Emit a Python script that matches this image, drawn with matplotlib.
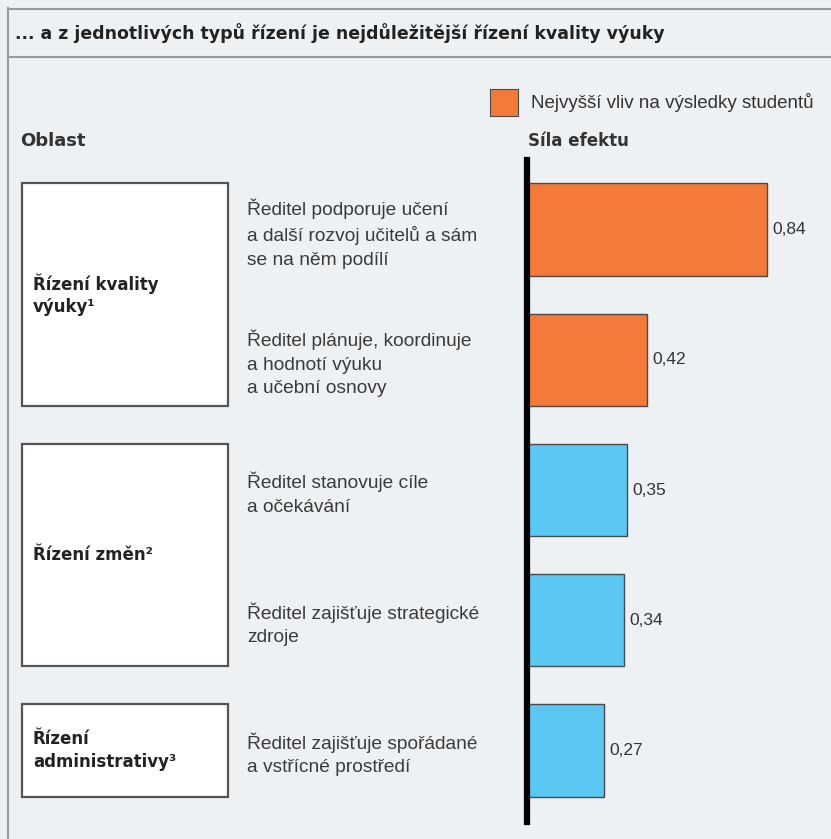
import matplotlib
matplotlib.use("Agg")
import matplotlib.pyplot as plt
from matplotlib.patches import Rectangle
from matplotlib import transforms

# data
popisy = [
    "Ředitel podporuje učení\na další rozvoj učitelů a sám\nse na něm podílí",
    "Ředitel plánuje, koordinuje\na hodnotí výuku\na učební osnovy",
    "Ředitel stanovuje cíle\na očekávání",
    "Ředitel zajišťuje strategické\nzdroje",
    "Ředitel zajišťuje spořádané\na vstřícné prostředí",
]
sila = [0.84, 0.42, 0.35, 0.34, 0.27]
nejvyssi = [True, True, False, False, False]
oblasti = ["Řízení kvality\nvýuky¹", "Řízení změn²", "Řízení\nadministrativy³"]
oblast_od = [0, 2, 4]
oblast_do = [1, 3, 4]

BG = "#eef1f4"
ORANGE = "#f47a3a"
BLUE = "#5ac8f2"
EDGE = "#4a4a4a"
W, H = 831, 839

bold_f = "DejaVu Sans"
reg = ["Liberation Sans", "DejaVu Sans"]

fig = plt.figure(figsize=(W / 100, H / 100), dpi=100, facecolor=BG)

def fx(px):
    return px / W

def fy(py):
    return 1 - py / H

# frame
fig.add_artist(plt.Line2D([fx(8), fx(8)], [fy(8), 0], color="#9a9a9a", lw=1.5))
fig.add_artist(plt.Line2D([fx(8), 1], [fy(8.5), fy(8.5)], color="#9a9a9a", lw=1.5))
fig.add_artist(plt.Line2D([fx(8), 1], [fy(57), fy(57)], color="#9a9a9a", lw=1.5))
fig.text(fx(15), fy(33), "... a z jednotlivých typů řízení je nejdůležitější řízení kvality výuky",
         family=bold_f, weight="bold", fontsize=12.5, va="center", color="#222222")

# legend
fig.add_artist(Rectangle((fx(490), fy(116)), fx(28), 27 / H, facecolor=ORANGE,
                         edgecolor=EDGE, lw=0.8))
fig.text(fx(531), fy(102), "Nejvyšší vliv na výsledky studentů", family=reg,
         fontsize=13.5, va="center", color="#333333")

fig.text(fx(20), fy(141), "Oblast", family=bold_f, weight="bold", fontsize=13,
         va="center", color="#333333")
fig.text(fx(528), fy(141), "Síla efektu", family=bold_f, weight="bold", fontsize=12,
         va="center", color="#333333")

# bars
top, bot, left = 160, 822, 527
ax = fig.add_axes([fx(left), fy(bot), 1 - fx(left), (bot - top) / H])
ax.set_facecolor("none")
y = list(range(len(sila)))
barvy = [ORANGE if n else BLUE for n in nejvyssi]
ax.barh(y, sila, height=0.71, color=barvy, edgecolor=EDGE, linewidth=1.0)
ax.set_xlim(0, (W - left) / 285.7)
ax.set_ylim(4.549, -0.534)
for s in ["top", "right", "bottom"]:
    ax.spines[s].set_visible(False)
ax.spines["left"].set_linewidth(4.5)
ax.spines["left"].set_color("black")
ax.spines["left"].set_zorder(5)
ax.set_xticks([])
ax.set_yticks([])

for i, v in enumerate(sila):
    ax.text(v + 0.02, i, f"{v:.2f}".replace(".", ","), va="center", ha="left",
            family=reg, fontsize=12.5, color="#333333")

tr = transforms.blended_transform_factory(fig.transFigure, ax.transData)
for i, t in enumerate(popisy):
    ax.text(fx(247), i + 0.03, t, transform=tr, va="center", ha="left",
            family=reg, fontsize=13.8, color="#3a3a3a", linespacing=1.5, clip_on=False)

for name, a, b in zip(oblasti, oblast_od, oblast_do):
    y0 = a - 0.355
    y1 = b + 0.355
    ax.add_patch(Rectangle((fx(22), y0), fx(206), y1 - y0, transform=tr,
                           facecolor="white", edgecolor="#555555", lw=1.6, clip_on=False))
    ax.text(fx(33), (y0 + y1) / 2, name, transform=tr, va="center", ha="left",
            family=bold_f, weight="bold", fontsize=12, color="#222222",
            linespacing=1.3, clip_on=False)

fig.savefig("out.png", dpi=100, facecolor=BG)
